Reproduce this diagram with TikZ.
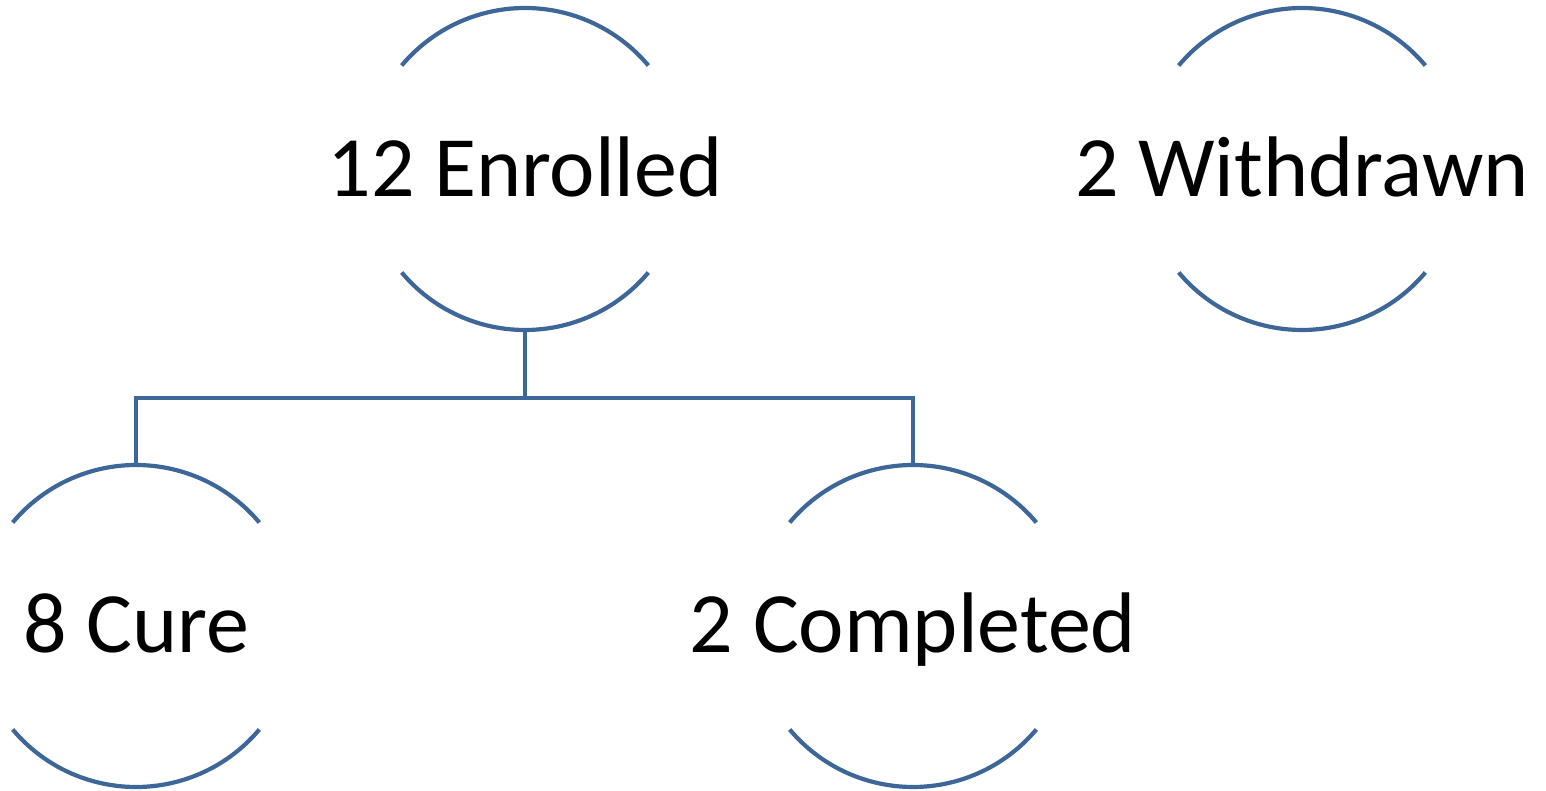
\documentclass[tikz,border=0pt]{standalone}
\usepackage{fontspec}
\setmainfont{Carlito}
\definecolor{arcblue}{HTML}{3D6699}
\begin{document}
\begin{tikzpicture}[x=1pt,y=1pt,
  ring/.style={circle,minimum size=322pt,inner sep=0pt,outer sep=0pt},
  lbl/.style={font=\fontsize{86}{100}\selectfont,anchor=base,inner sep=0pt},
  arcline/.style={draw=arcblue,line width=4.2pt},
  link/.style={draw=arcblue,line width=4.2pt}]
\useasboundingbox (0,0) rectangle (1546,790);
\node[ring] (enr) at (525,621) {};
\node[ring] (wd) at (1302,621) {};
\node[ring] (cure) at (136,164) {};
\node[ring] (comp) at (913,164) {};
\node[lbl] (tenr) at (525,593) {12 Enrolled};
\node[lbl] (twd) at (1302,593) {2 Withdrawn};
\node[lbl] (tcure) at (136,138) {8 Cure};
\node[lbl] (tcomp) at (913,138) {2 Completed};
\foreach \n in {enr,wd,cure,comp}{
  \draw[arcline] (\n.140) arc[start angle=140,end angle=40,radius=161pt];
  \draw[arcline] (\n.220) arc[start angle=220,end angle=320,radius=161pt];
}
\coordinate (split) at (525,392);
\draw[link] (enr.south) -- (split);
\draw[link] (split) -| (cure.north);
\draw[link] (split) -| (comp.north);
\end{tikzpicture}
\end{document}
